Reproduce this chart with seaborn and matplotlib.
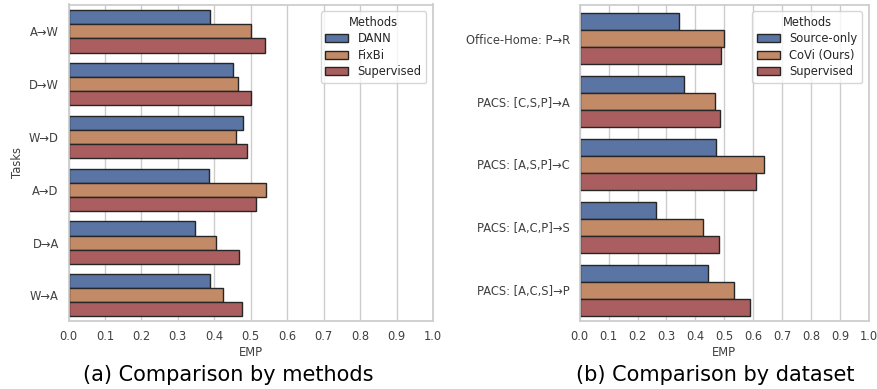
import pandas as pd
import seaborn as sns
import matplotlib.pyplot as plt

# panel (a): methods on Office-31 tasks
tasks_a = ["A→W", "D→W", "W→D", "A→D", "D→A", "W→A"]
methods_a = ["DANN", "FixBi", "Supervised"]
dann = [0.387, 0.452, 0.480, 0.385, 0.348, 0.389]
fixbi = [0.502, 0.465, 0.460, 0.543, 0.404, 0.425]
sup_a = [0.540, 0.502, 0.491, 0.515, 0.469, 0.475]

# panel (b): datasets
tasks_b = ["Office-Home: P→R", "PACS: [C,S,P]→A", "PACS: [A,S,P]→C",
           "PACS: [A,C,P]→S", "PACS: [A,C,S]→P"]
methods_b = ["Source-only", "CoVi (Ours)", "Supervised"]
source_only = [0.343, 0.361, 0.472, 0.265, 0.445]
covi = [0.499, 0.466, 0.638, 0.427, 0.532]
sup_b = [0.490, 0.484, 0.611, 0.482, 0.587]


def to_long(tasks, methods, series):
    rows = []
    for m, vals in zip(methods, series):
        for t, v in zip(tasks, vals):
            rows.append({"Tasks": t, "Methods": m, "EMP": v})
    return pd.DataFrame(rows)


df_a = to_long(tasks_a, methods_a, [dann, fixbi, sup_a])
df_b = to_long(tasks_b, methods_b, [source_only, covi, sup_b])

sns.set_theme(style="whitegrid")
plt.rcParams['font.family'] = ['DejaVu Sans']
pal = ["#5a74a4", "#c28a67", "#ab5e60"]
fs = 8.3

fig = plt.figure(figsize=(8.78, 3.89), dpi=100)
ax1 = fig.add_axes([68.5 / 878, 1 - 320.7 / 389, 364.5 / 878, 316.2 / 389])
ax2 = fig.add_axes([579.7 / 878, 1 - 320.7 / 389, 289.3 / 878, 316.2 / 389])

for ax, df, ylim in [(ax1, df_a, (5.48, -0.51)), (ax2, df_b, (4.48, -0.54))]:
    sns.barplot(data=df, y="Tasks", x="EMP", hue="Methods", orient="h",
                palette=pal, saturation=1, edgecolor="0.15", linewidth=1, ax=ax)
    ax.set_xlim(0, 1.0)
    ax.set_ylim(*ylim)
    ax.set_xticks([i / 10 for i in range(11)])
    ax.tick_params(labelsize=fs, colors="0.25", length=0, pad=7)
    ax.set_xlabel("EMP", fontsize=fs, color="0.25", labelpad=2)
    ax.set_ylabel("Tasks", fontsize=fs, color="0.25", labelpad=3.6)
    leg = ax.legend(title="Methods", loc="upper right", fontsize=fs,
                    title_fontsize=fs, labelspacing=0.3, borderaxespad=0.6)

ax2.set_ylabel("")

fig.text(228 / 878, 1 - 375 / 389, "(a) Comparison by methods",
         ha="center", va="center", fontsize=15, color="black")
fig.text(715 / 878, 1 - 375 / 389, "(b) Comparison by dataset",
         ha="center", va="center", fontsize=15, color="black")

plt.savefig("out.png", dpi=100)
